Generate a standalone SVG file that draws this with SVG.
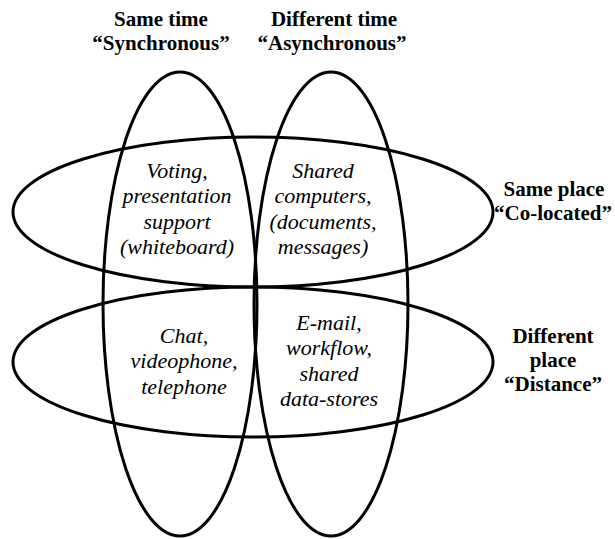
<svg xmlns="http://www.w3.org/2000/svg" width="615" height="539" viewBox="0 0 615 539">
<rect width="615" height="539" fill="#fff"/>
<g id="ellipses" fill="none" stroke="#000" stroke-width="3">
<ellipse id="sync-shape" cx="180" cy="304" rx="77" ry="232"/>
<ellipse id="async-shape" cx="331" cy="304" rx="77" ry="232"/>
<ellipse id="colocated-shape" cx="253" cy="212" rx="240" ry="75"/>
<ellipse id="distance-shape" cx="253" cy="362" rx="240" ry="75"/>
</g>
<g id="sync">
<text x="161" y="26" font-family="Liberation Serif" font-weight="bold" font-size="21" text-anchor="middle">Same time</text>
<text x="161" y="50" font-family="Liberation Serif" font-weight="bold" font-size="21" text-anchor="middle">“Synchronous”</text>
</g>
<g id="async">
<text x="334" y="26" font-family="Liberation Serif" font-weight="bold" font-size="21" text-anchor="middle">Different time</text>
<text x="332" y="50" font-family="Liberation Serif" font-weight="bold" font-size="21" text-anchor="middle">“Asynchronous”</text>
</g>
<g id="colocated">
<text x="554" y="196" font-family="Liberation Serif" font-weight="bold" font-size="21" text-anchor="middle">Same place</text>
<text x="553" y="220" font-family="Liberation Serif" font-weight="bold" font-size="21" text-anchor="middle">“Co-located”</text>
</g>
<g id="distance">
<text x="553" y="343" font-family="Liberation Serif" font-weight="bold" font-size="21" text-anchor="middle">Different</text>
<text x="553" y="367" font-family="Liberation Serif" font-weight="bold" font-size="21" text-anchor="middle">place</text>
<text x="553" y="391" font-family="Liberation Serif" font-weight="bold" font-size="21" text-anchor="middle">“Distance”</text>
</g>
<g id="q-same-same">
<text x="177" y="178" font-family="Liberation Serif" font-style="italic" font-size="22" text-anchor="middle">Voting,</text>
<text x="177" y="203" font-family="Liberation Serif" font-style="italic" font-size="22" text-anchor="middle">presentation</text>
<text x="177" y="229" font-family="Liberation Serif" font-style="italic" font-size="22" text-anchor="middle">support</text>
<text x="177" y="254" font-family="Liberation Serif" font-style="italic" font-size="22" text-anchor="middle">(whiteboard)</text>
</g>
<g id="q-diff-same">
<text x="323" y="178" font-family="Liberation Serif" font-style="italic" font-size="22" text-anchor="middle">Shared</text>
<text x="323" y="203" font-family="Liberation Serif" font-style="italic" font-size="22" text-anchor="middle">computers,</text>
<text x="323" y="229" font-family="Liberation Serif" font-style="italic" font-size="22" text-anchor="middle">(documents,</text>
<text x="323" y="254" font-family="Liberation Serif" font-style="italic" font-size="22" text-anchor="middle">messages)</text>
</g>
<g id="q-same-diff">
<text x="184" y="343" font-family="Liberation Serif" font-style="italic" font-size="22" text-anchor="middle">Chat,</text>
<text x="184" y="368" font-family="Liberation Serif" font-style="italic" font-size="22" text-anchor="middle">videophone,</text>
<text x="184" y="394" font-family="Liberation Serif" font-style="italic" font-size="22" text-anchor="middle">telephone</text>
</g>
<g id="q-diff-diff">
<text x="329" y="330" font-family="Liberation Serif" font-style="italic" font-size="22" text-anchor="middle">E-mail,</text>
<text x="329" y="355" font-family="Liberation Serif" font-style="italic" font-size="22" text-anchor="middle">workflow,</text>
<text x="329" y="381" font-family="Liberation Serif" font-style="italic" font-size="22" text-anchor="middle">shared</text>
<text x="329" y="406" font-family="Liberation Serif" font-style="italic" font-size="22" text-anchor="middle">data-stores</text>
</g>
<g id="connectors"></g>
</svg>
